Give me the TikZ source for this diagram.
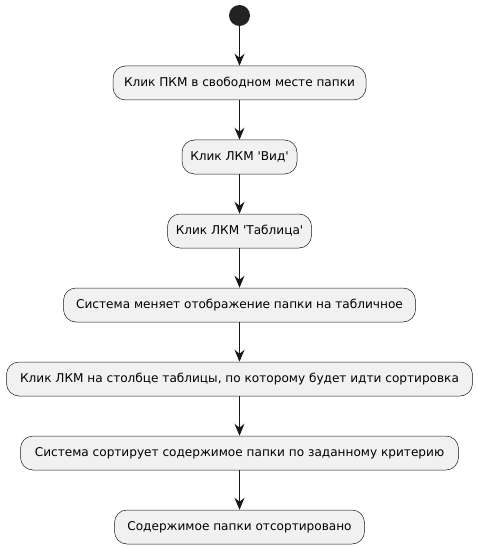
\documentclass[tikz,border=0pt]{standalone}
\usepackage{fontspec}
\setmainfont{DejaVu Sans}
\usetikzlibrary{arrows.meta}
\definecolor{boxfill}{HTML}{F1F1F1}
\definecolor{lineclr}{HTML}{181818}
\definecolor{startclr}{HTML}{222222}
\tikzset{
  act/.style={draw=lineclr, line width=0.5pt, fill=boxfill, rounded corners=12.5pt,
    minimum height=34pt, inner sep=0pt, font=\fontsize{12.1}{14}\selectfont, text=black, anchor=center},
  flow/.style={draw=lineclr, line width=1pt, -{Stealth[length=12pt,width=10pt,inset=4pt]}},
}
\begin{document}
\begin{tikzpicture}[x=1pt,y=-1pt]
\useasboundingbox (0,0) rectangle (477,548);
\node[circle, fill=startclr, minimum size=21pt, inner sep=0pt] (s) at (239.5,15.5) {};
\node[act, minimum width=253pt] (a1) at (239.5,83) {Клик ПКМ в свободном месте папки};
\node[act, minimum width=115pt] (a2) at (239.5,157) {Клик ЛКМ \textquotesingle Вид\textquotesingle};
\node[act, minimum width=144pt] (a3) at (239.5,231) {Клик ЛКМ \textquotesingle Таблица\textquotesingle};
\node[act, minimum width=352pt] (a4) at (239.5,305) {Система меняет отображение папки на табличное};
\node[act, minimum width=466pt] (a5) at (239.5,379) {Клик ЛКМ на столбце таблицы, по которому будет идти сортировка};
\node[act, minimum width=438pt] (a6) at (239.5,453) {Система сортирует содержимое папки по заданному критерию};
\node[act, minimum width=250pt] (a7) at (239.5,527) {Содержимое папки отсортировано};
\draw[flow] (s) -- (a1);
\draw[flow] (a1) -- (a2);
\draw[flow] (a2) -- (a3);
\draw[flow] (a3) -- (a4);
\draw[flow] (a4) -- (a5);
\draw[flow] (a5) -- (a6);
\draw[flow] (a6) -- (a7);
\end{tikzpicture}
\end{document}
